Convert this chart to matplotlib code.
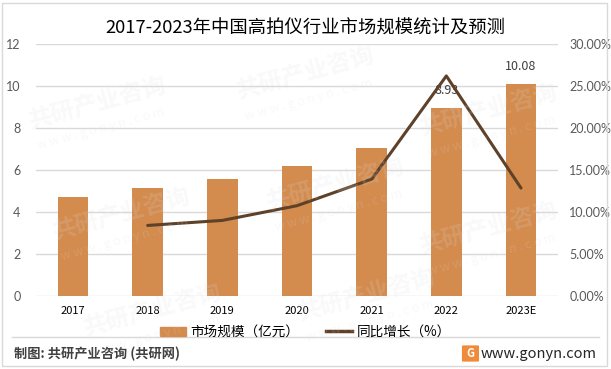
import matplotlib
matplotlib.use("Agg")
import matplotlib.pyplot as plt
from matplotlib.patches import Rectangle, FancyBboxPatch
from matplotlib.lines import Line2D

plt.rcParams['font.family'] = ['Noto Sans CJK SC', 'DejaVu Sans']

# data
years = ['2017', '2018', '2019', '2020', '2021', '2022', '2023E']
market_size = [4.72, 5.15, 5.58, 6.18, 7.06, 8.93, 10.08]   # 亿元
growth = [None, 8.4, 9.0, 10.75, 13.9, 26.2, 12.85]         # %
labelled = {5: '8.93', 6: '10.08'}
left_ticks = [0, 2, 4, 6, 8, 10, 12]
right_ticks = [0, 5, 10, 15, 20, 25, 30]

bar_color = '#D38B4E'
line_color = '#5E4129'
grid_color = '#D9D9D9'


def main():
    fig = plt.figure(figsize=(6.11, 3.69), dpi=100)
    ax = fig.add_axes([0.0584, 0.1978, 0.8554, 0.683])
    ax.set_facecolor('none')

    x = list(range(len(years)))
    ax.bar(x, market_size, width=0.41, color=bar_color, zorder=2)
    ax.set_xlim(-0.5, len(years) - 0.5)
    ax.set_ylim(0, 12)
    ax.set_yticks(left_ticks)
    ax.set_yticklabels([str(t) for t in left_ticks], fontsize=9, color='#595959',
                       family='Lato')
    ax.set_xticks(x)
    ax.set_xticklabels(years, fontsize=8, color='#000000')
    ax.tick_params(axis='both', length=0)
    ax.tick_params(axis='y', pad=11)
    ax.tick_params(axis='x', pad=7)
    ax.grid(axis='y', color=grid_color, linewidth=1, zorder=0)
    for s in ax.spines.values():
        s.set_visible(False)

    for i, txt in labelled.items():
        ax.annotate(txt, (i, market_size[i]), xytext=(0, 8), textcoords='offset points',
                    ha='center', va='bottom', fontsize=9, color='#404040', zorder=5)

    ax2 = ax.twinx()
    gx = [i for i, g in enumerate(growth) if g is not None]
    gy = [g for g in growth if g is not None]
    ax2.plot(gx, gy, color=line_color, linewidth=2.2, solid_capstyle='round', zorder=3)
    ax2.set_ylim(0, 30)
    ax2.set_yticks(right_ticks)
    ax2.set_yticklabels(['%.2f%%' % t for t in right_ticks], fontsize=9, color='#595959',
                        family='Lato')
    ax2.tick_params(axis='y', length=0, pad=8)
    for s in ax2.spines.values():
        s.set_visible(False)

    # legend
    handles = [Rectangle((0, 0), 1, 1, color=bar_color),
               Line2D([0], [0], color=line_color, linewidth=2.5)]
    fig.legend(handles, ['市场规模（亿元）', '同比增长（%）'], ncol=2, frameon=False,
               loc='center', bbox_to_anchor=(0.5, 0.1), fontsize=9.8,
               handlelength=1.9, handletextpad=0.3, columnspacing=2.0)

    # title
    fig.text(0.5, 0.922, '2017-2023年中国高拍仪行业市场规模统计及预测',
             ha='center', va='center', fontsize=13.2, color='#000000')

    # footer
    fig.add_artist(Line2D([0.02, 0.98], [0.087, 0.087], color='#D9D9D9', linewidth=1,
                          transform=fig.transFigure))
    fig.text(0.023, 0.04, '制图: 共研产业咨询 (共研网)', ha='left', va='center',
             fontsize=9.5, color='#404040', fontweight='bold')
    fig.text(0.977, 0.042, 'www.gonyn.com', ha='right', va='center',
             fontsize=10.5, color='#262626')
    fig.add_artist(FancyBboxPatch((0.758, 0.022), 0.024, 0.04,
                                  boxstyle='round,pad=0.002', transform=fig.transFigure,
                                  facecolor='#F08A3C', edgecolor='none'))
    fig.text(0.770, 0.042, 'G', ha='center', va='center', fontsize=8,
             color='white', fontweight='bold')

    # faint watermarks
    for wx, wy in [(0.16, 0.72), (0.5, 0.8), (0.8, 0.7), (0.2, 0.42),
                   (0.55, 0.5), (0.8, 0.38), (0.25, 0.16), (0.6, 0.2)]:
        fig.text(wx, wy, '共研产业咨询', ha='center', va='center', fontsize=17,
                 fontweight='bold', color='#DDDDDD', alpha=0.18, rotation=15, zorder=10)
        fig.text(wx + 0.005, wy - 0.07, 'w w w . g o n y n . c o m', ha='center',
                 va='center', fontsize=9, color='#DDDDDD', alpha=0.18, rotation=15,
                 zorder=10)

    # outer frame
    fig.add_artist(Rectangle((0.004, 0.008), 0.99, 0.985, transform=fig.transFigure,
                             fill=False, edgecolor='#D9D9D9', linewidth=1))

    fig.savefig('out.png', dpi=100)


if __name__ == "__main__":
    main()
